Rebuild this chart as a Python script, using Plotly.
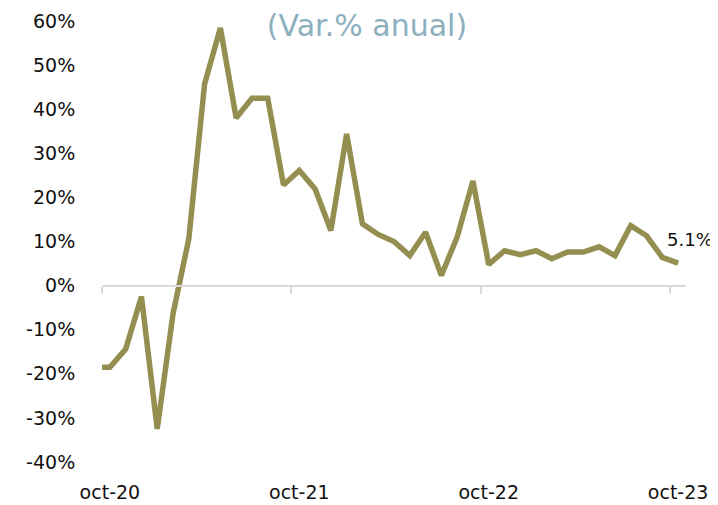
import plotly.graph_objects as go

# Monthly categories (sep-20 is only partly visible at the left edge)
months = ["sep-20", "oct-20", "nov-20", "dic-20", "ene-21", "feb-21", "mar-21", "abr-21",
          "may-21", "jun-21", "jul-21", "ago-21", "sep-21", "oct-21", "nov-21", "dic-21",
          "ene-22", "feb-22", "mar-22", "abr-22", "may-22", "jun-22", "jul-22", "ago-22",
          "sep-22", "oct-22", "nov-22", "dic-22", "ene-23", "feb-23", "mar-23", "abr-23",
          "may-23", "jun-23", "jul-23", "ago-23", "sep-23", "oct-23"]
values = [-18.5, -18.5, -14.4, -2.5, -32.5, -6.4, 10.6, 45.7,
          58.4, 38.0, 42.5, 42.5, 22.8, 26.1, 21.9, 12.5,
          34.4, 14.0, 11.6, 10.0, 6.8, 12.1, 2.3, 11.0,
          23.7, 4.8, 7.9, 7.0, 7.9, 6.1, 7.6, 7.6,
          8.8, 6.8, 13.6, 11.3, 6.4, 5.1]
tick_labels = ["oct-20", "oct-21", "oct-22", "oct-23"]
y_ticks = [-40, -30, -20, -10, 0, 10, 20, 30, 40, 50, 60]
title_text = "(Var.% anual)"
last_label = "5.1%"

x = list(range(len(months)))
label_pos = [months.index(t) for t in tick_labels]
boundaries = [p - 0.5 for p in label_pos]
xr = [label_pos[0] - 0.5, len(months) - 0.5]
yr = [y_ticks[0], y_ticks[-1]]
zero_pos = (0 - yr[0]) / (yr[1] - yr[0])

line_color = "#948F50"
font = "DejaVu Sans"

fig = go.Figure()
fig.add_trace(go.Scatter(x=x, y=values, mode="lines",
                         line=dict(color=line_color, width=5.5),
                         hoverinfo="skip", showlegend=False))
# hidden copy on the zero-positioned axis so that axis renders
fig.add_trace(go.Scatter(x=x, y=values, mode="lines", xaxis="x2",
                         line=dict(color="rgba(0,0,0,0)", width=0),
                         hoverinfo="skip", showlegend=False))

fig.add_annotation(x=x[-1], y=values[-1], text=last_label, showarrow=False,
                   xanchor="left", yanchor="middle", xshift=-13, yshift=24,
                   font=dict(family=font, size=18, color="#111111"))

# page body has an 8px margin, so the figure is 710x497
fig.update_layout(
    width=710, height=497,
    margin=dict(l=94, r=32, t=13, b=43),
    paper_bgcolor="white", plot_bgcolor="white",
    font=dict(family=font, size=19, color="#111111"),
    title=dict(text=title_text, x=0.5056, xanchor="center", y=0.964, yanchor="middle",
               font=dict(family=font, size=30, color="#8DB0BF")),
    xaxis=dict(range=xr, tickmode="array", tickvals=label_pos, ticktext=tick_labels,
               showgrid=False, zeroline=False, showline=False, ticks="",
               automargin=False,
               ticklabelstandoff=17, tickfont=dict(family=font, size=19)),
    xaxis2=dict(range=xr, overlaying="x", anchor="free", position=zero_pos, side="bottom",
                tickmode="array", tickvals=boundaries, showticklabels=False,
                ticks="outside", ticklen=7, tickwidth=2, tickcolor="#D9D9D9",
                showline=True, linecolor="#D9D9D9", linewidth=2,
                automargin=False, showgrid=False, zeroline=False),
    yaxis=dict(range=yr, tickmode="array", tickvals=y_ticks,
               ticktext=[f"{v}%" for v in y_ticks],
               showgrid=False, zeroline=False, automargin=False,
               showline=False, ticks="outside", ticklen=0, ticklabelstandoff=22,
               tickfont=dict(family=font, size=19)),
)

fig.write_html("out.html")
